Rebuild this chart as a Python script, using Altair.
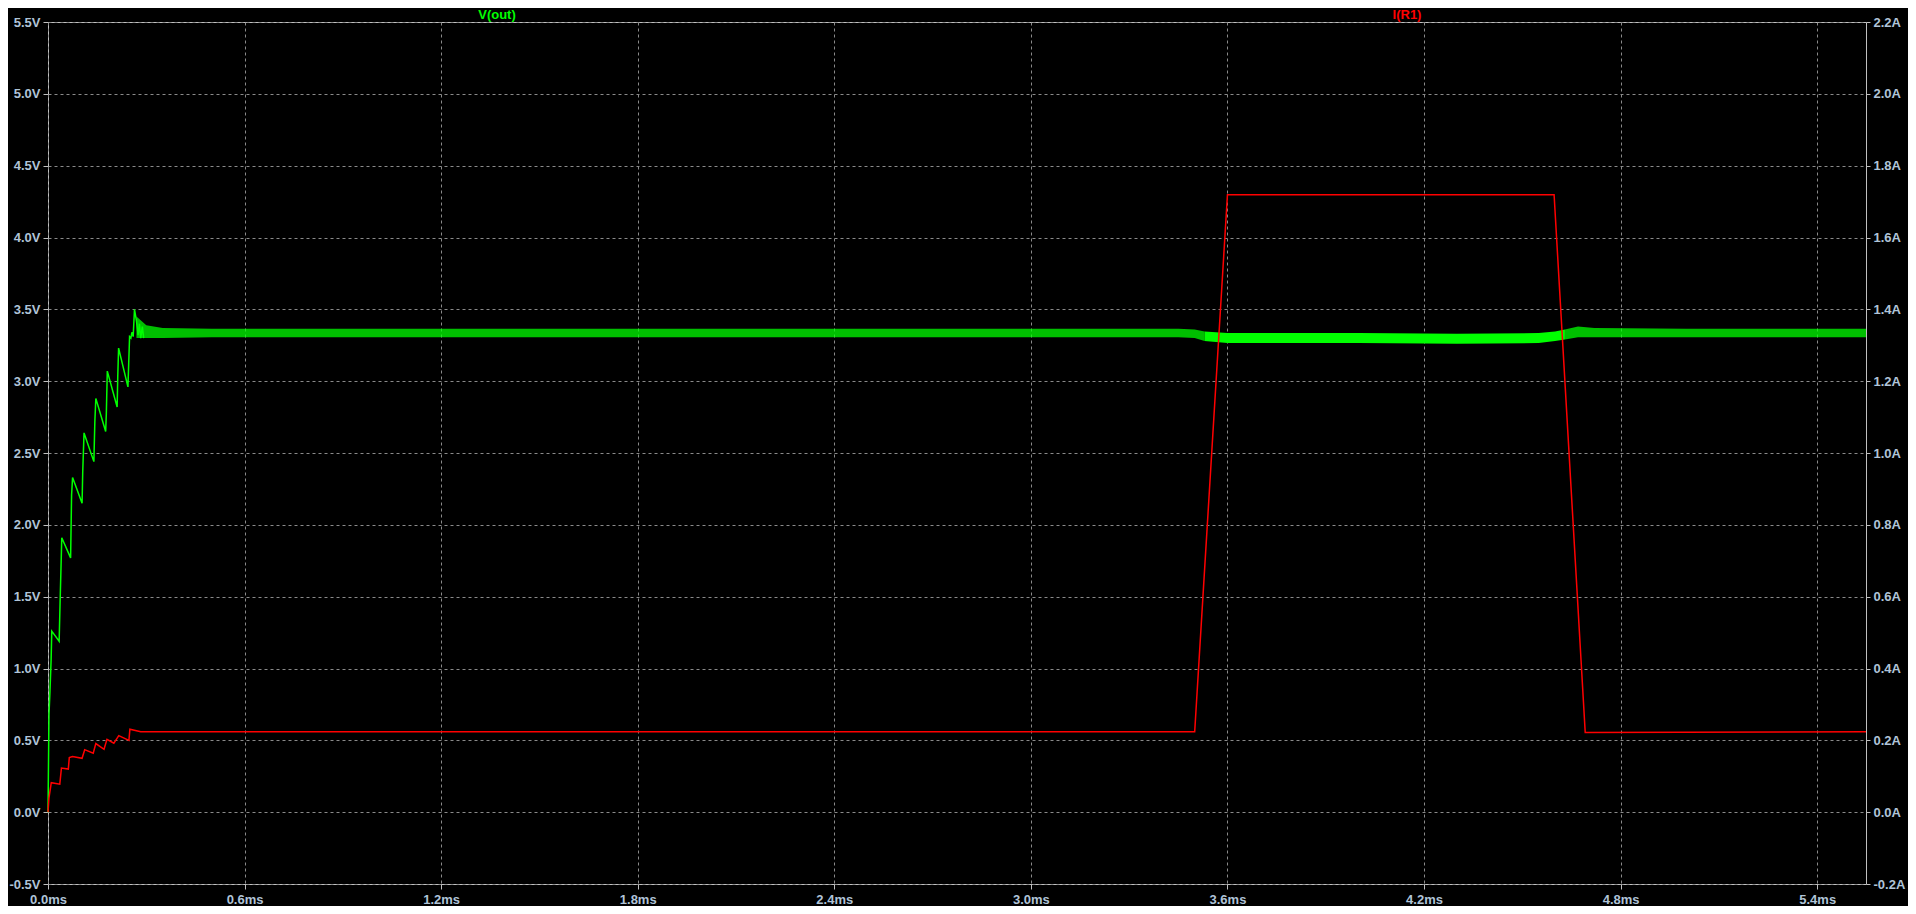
import altair as alt
import pandas as pd

# ---- V(out): start-up transient (time in ms, volts) ----
v_t = [0.000, 0.003, 0.006, 0.0095, 0.0115, 0.034, 0.037, 0.040, 0.042, 0.069,
       0.072, 0.075, 0.104, 0.106, 0.110, 0.140, 0.143, 0.146, 0.176, 0.178,
       0.181, 0.211, 0.213, 0.2155, 0.244, 0.249, 0.253, 0.256, 0.260, 0.264,
       0.270, 0.275, 0.279, 0.283, 0.288, 0.292]
v_val = [0.00, 0.68, 0.84, 1.06, 1.26, 1.19, 1.47, 1.73, 1.91, 1.77,
         2.21, 2.33, 2.15, 2.37, 2.64, 2.44, 2.72, 2.88, 2.65, 2.77,
         3.07, 2.82, 3.04, 3.23, 2.96, 3.31, 3.30, 3.34, 3.31, 3.50,
         3.42, 3.32, 3.40, 3.30, 3.38, 3.30]

# ---- V(out): ripple band envelope in steady state (ms, low V, high V) ----
band_t = [0.270, 0.300, 0.350, 0.500, 1.000, 2.000, 3.000, 3.450, 3.500, 3.530,
          3.600, 4.000, 4.300, 4.550, 4.600, 4.630, 4.670, 4.720, 5.000, 5.549]
band_lo = [3.30, 3.30, 3.30, 3.305, 3.305, 3.305, 3.305, 3.305, 3.30, 3.28,
           3.265, 3.265, 3.26, 3.265, 3.28, 3.29, 3.305, 3.305, 3.305, 3.305]
band_hi = [3.45, 3.39, 3.37, 3.365, 3.365, 3.365, 3.365, 3.365, 3.36, 3.345,
           3.335, 3.335, 3.33, 3.335, 3.345, 3.36, 3.38, 3.37, 3.365, 3.365]

# ---- I(R1) (ms, amps) ----
i_t = [0.000, 0.003, 0.010, 0.036, 0.041, 0.062, 0.065, 0.075, 0.104, 0.112,
       0.138, 0.146, 0.171, 0.180, 0.201, 0.216, 0.247, 0.250, 0.283, 3.500,
       3.600, 4.597, 4.692, 5.549]
i_val = [0.000, 0.040, 0.082, 0.078, 0.123, 0.120, 0.152, 0.155, 0.150, 0.174,
         0.164, 0.191, 0.175, 0.203, 0.192, 0.213, 0.200, 0.231, 0.224, 0.224,
         1.719, 1.719, 0.222, 0.224]

x_ticks = [0.0, 0.6, 1.2, 1.8, 2.4, 3.0, 3.6, 4.2, 4.8, 5.4]
v_ticks = [-0.5, 0.0, 0.5, 1.0, 1.5, 2.0, 2.5, 3.0, 3.5, 4.0, 4.5, 5.0, 5.5]
i_ticks = [-0.2, 0.0, 0.2, 0.4, 0.6, 0.8, 1.0, 1.2, 1.4, 1.6, 1.8, 2.0, 2.2]

v_df = pd.DataFrame({"t": v_t, "v": v_val})
band_df = pd.DataFrame({"t": band_t, "lo": band_lo, "hi": band_hi})
i_df = pd.DataFrame({"t": i_t, "i": i_val})

LABEL_COLOR = "#b0c4d8"
FRAME = "#c0c0c0"
GRID = "#8a8a8a"
FONT = "Liberation Sans"


def lab(unit):
    return ("(datum.value < 0 ? '-' : '') + format(abs(datum.value), '.1f') + '"
            + unit + "'")


x_enc = alt.X("t:Q",
              scale=alt.Scale(domain=[0, 5.549], nice=False, zero=False),
              axis=alt.Axis(values=x_ticks, title=None,
                            labelExpr=lab("ms"),
                            grid=True, gridColor=GRID, gridDash=[3, 3],
                            domain=False, tickColor=FRAME, tickSize=5,
                            labelPadding=4, labelColor=LABEL_COLOR,
                            labelFont=FONT, labelFontSize=13,
                            labelFontWeight="bold", labelFlush=False))

v_axis = alt.Axis(values=v_ticks, title=None,
                  labelExpr=lab("V"),
                  grid=True, gridColor=GRID, gridDash=[3, 3],
                  domain=False, tickColor=FRAME, tickSize=5,
                  labelPadding=3, labelColor=LABEL_COLOR,
                  labelFont=FONT, labelFontSize=13, labelFontWeight="bold",
                  labelFlush=False)
v_scale = alt.Scale(domain=[-0.5, 5.5], nice=False, zero=False)

i_axis = alt.Axis(values=i_ticks, title=None, orient="right",
                  labelExpr=lab("A"),
                  grid=False, domain=False, tickColor=FRAME, tickSize=4,
                  labelPadding=3, labelColor=LABEL_COLOR,
                  labelFont=FONT, labelFontSize=13, labelFontWeight="bold",
                  labelFlush=False)
i_scale = alt.Scale(domain=[-0.2, 2.2], nice=False, zero=False)

green = "#00ff00"
red = "#ff0000"

v_line = alt.Chart(v_df).mark_line(color=green, strokeWidth=1.5).encode(
    x=x_enc, y=alt.Y("v:Q", scale=v_scale, axis=v_axis))

band_base = alt.Chart(band_df)
band1 = band_base.transform_filter(alt.datum.t <= 3.53).mark_area(
    color=green, opacity=0.75).encode(
    x=x_enc, y=alt.Y("lo:Q", scale=v_scale, axis=v_axis), y2="hi:Q")
band2 = band_base.transform_filter(
    (alt.datum.t >= 3.53) & (alt.datum.t <= 4.63)).mark_area(
    color=green, opacity=1.0).encode(
    x=x_enc, y=alt.Y("lo:Q", scale=v_scale, axis=v_axis), y2="hi:Q")
band3 = band_base.transform_filter(alt.datum.t >= 4.63).mark_area(
    color=green, opacity=0.75).encode(
    x=x_enc, y=alt.Y("lo:Q", scale=v_scale, axis=v_axis), y2="hi:Q")

volt = alt.layer(v_line, band1, band2, band3)

i_line = alt.Chart(i_df).mark_line(color=red, strokeWidth=1.5).encode(
    x=x_enc, y=alt.Y("i:Q", scale=i_scale, axis=i_axis))

title_v = alt.Chart(pd.DataFrame({"name": ["V(out)"]})).mark_text(
    color=green, font=FONT, fontSize=13, fontWeight="bold",
    align="center", baseline="alphabetic").encode(
    x=alt.value(449), y=alt.value(-3), text="name:N")
title_i = alt.Chart(pd.DataFrame({"name": ["I(R1)"]})).mark_text(
    color=red, font=FONT, fontSize=13, fontWeight="bold",
    align="center", baseline="alphabetic").encode(
    x=alt.value(1359), y=alt.value(-3), text="name:N")

chart = alt.layer(volt, i_line, title_v, title_i).resolve_scale(
    y="independent"
).properties(
    width=1818, height=862,
    autosize=alt.AutoSizeParams(type="none"),
    padding={"left": 40, "top": 14, "right": 42, "bottom": 22},
    background="black",
).configure_view(stroke=FRAME, strokeWidth=1)

chart.save("out.html", embed_options={"renderer": "svg", "actions": False})
